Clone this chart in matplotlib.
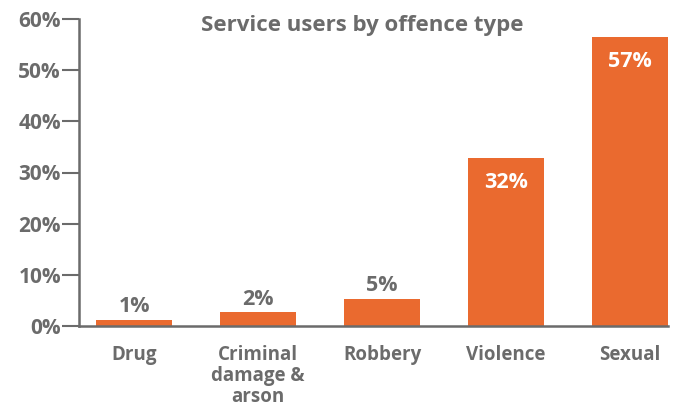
import numpy as np
import matplotlib
matplotlib.use("Agg")
import matplotlib.pyplot as plt

categories = ["Drug", "Criminal\ndamage &\narson", "Robbery", "Violence", "Sexual"]
values = [1.2, 2.7, 5.3, 32.8, 56.5]
labels = ["1%", "2%", "5%", "32%", "57%"]
yticks = [0, 10, 20, 30, 40, 50, 60]

BAR = "#EA6A2F"
GREY = "#6B6B6B"

plt.rcParams["font.family"] = ["Open Sans", "DejaVu Sans"]
plt.rcParams["font.weight"] = "bold"

fig = plt.figure(figsize=(6.8, 4.07), dpi=100)
ax = fig.add_axes([79 / 680, 1 - 326 / 407, (668 - 79) / 680, (326 - 19) / 407])

x = np.arange(len(categories))
ax.bar(x, values, width=0.613, color=BAR, zorder=2)

for xi, v, lab in zip(x, values, labels):
    if v > 20:
        ax.text(xi, v - 2.8, lab, ha="center", va="top", color="white",
                fontsize=15.5, fontweight="bold")
    else:
        ax.text(xi, v + 0.5, lab, ha="center", va="bottom", color=GREY,
                fontsize=15.5, fontweight="bold")

ax.set_xlim(-0.444, 4.306)
ax.set_ylim(0, 60)
ax.set_yticks(yticks)
ax.set_yticklabels([f"{t}%" for t in yticks], fontsize=15, color=GREY,
                   fontweight="bold")
ax.set_xticks(x)
ax.set_xticklabels(categories, fontsize=13.5, color=GREY, fontweight="bold",
                   linespacing=1.05, va="top")
ax.tick_params(axis="x", length=0, pad=14)
ax.tick_params(axis="y", length=12, width=1.5, color=GREY, pad=1)

for s in ["top", "right"]:
    ax.spines[s].set_visible(False)
for s in ["left", "bottom"]:
    ax.spines[s].set_color(GREY)
    ax.spines[s].set_linewidth(1.8)

fig.text(362 / 680, 1 - 26 / 407, "Service users by offence type", ha="center",
         va="center", fontsize=16, color=GREY, fontweight="bold")

fig.savefig("out.png", dpi=100)
